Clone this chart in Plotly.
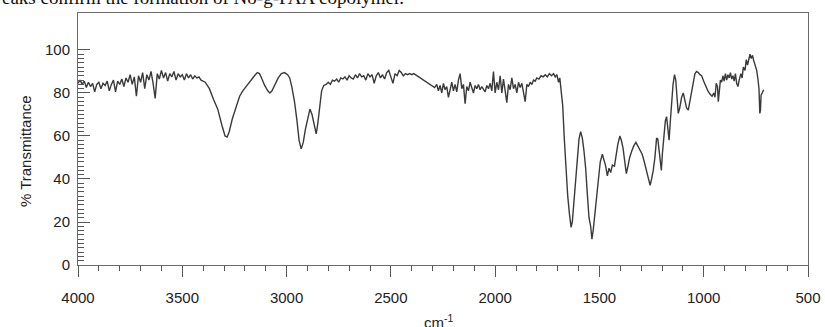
import plotly.graph_objects as go

# Wavenumber (cm-1) and % transmittance
wavenumber = [
    4000, 3990, 3980, 3970, 3960, 3950, 3940, 3930, 3920, 3910,
    3900, 3890, 3880, 3870, 3860, 3850, 3840, 3830, 3820, 3810,
    3800, 3790, 3780, 3770, 3760, 3750, 3740, 3730, 3720, 3710,
    3700, 3690, 3680, 3670, 3660, 3650, 3640, 3630, 3620, 3610,
    3600, 3590, 3580, 3570, 3560, 3550, 3540, 3530, 3520, 3510,
    3500, 3490, 3480, 3470, 3460, 3450, 3440, 3430, 3420, 3410,
    3390, 3370, 3350, 3330, 3310, 3295, 3285, 3275, 3260, 3240,
    3225, 3210, 3195, 3180, 3165, 3150, 3140, 3130, 3120, 3105,
    3090, 3080, 3070, 3055, 3040, 3025, 3010, 2995, 2985, 2975,
    2962, 2950, 2940, 2930, 2920, 2910, 2900, 2888, 2878, 2868,
    2858, 2850, 2842, 2832, 2822, 2810,
    2800, 2790, 2780, 2770, 2760, 2750, 2740, 2730, 2720, 2710,
    2700, 2690, 2680, 2670, 2660, 2650, 2640, 2630, 2620, 2610,
    2600, 2590, 2580, 2570, 2560, 2550, 2540, 2530, 2520, 2510,
    2500, 2490, 2480, 2470, 2460, 2450, 2440, 2430, 2420, 2410,
    2400, 2390, 2290,
    2280, 2272, 2264, 2256, 2248, 2240, 2232, 2224, 2216, 2208,
    2200, 2192, 2184, 2176, 2168, 2160, 2152, 2144, 2136, 2128,
    2120, 2112, 2104, 2096, 2088, 2080, 2072, 2064, 2056, 2048,
    2040, 2032, 2024, 2016, 2008, 2000, 1992, 1984, 1976, 1968,
    1960, 1952, 1944, 1936, 1928, 1920, 1912, 1904, 1896, 1888,
    1880, 1872, 1864, 1856, 1848, 1840, 1832, 1824, 1816, 1808,
    1800, 1790, 1780, 1770, 1760, 1750, 1740, 1730, 1720, 1712,
    1704, 1696, 1690, 1684,
    1676, 1668, 1660, 1652, 1644, 1636, 1630, 1622, 1614, 1606,
    1598, 1590, 1582, 1574, 1566, 1558, 1550, 1542, 1536, 1530,
    1522, 1514, 1506, 1496, 1486, 1478, 1470, 1462, 1454, 1446,
    1438, 1428, 1420, 1412, 1402, 1395, 1387, 1379, 1371, 1363,
    1355, 1345, 1335, 1325, 1315, 1305, 1295, 1285, 1275, 1265,
    1257, 1250, 1242, 1234, 1226, 1220, 1214, 1207, 1203, 1198,
    1190, 1184, 1178, 1172, 1166, 1160, 1154, 1147, 1140, 1134,
    1128, 1122, 1115, 1106, 1098, 1090, 1082, 1074, 1066, 1058,
    1050, 1042, 1034, 1026, 1018, 1010, 1000, 990, 980, 970,
    960, 952, 946, 940, 934, 930, 925, 920, 914, 908,
    902, 896, 890, 884, 878, 872, 866, 860, 854, 848,
    842, 836, 830, 822, 816, 810, 802, 796, 790, 784,
    778, 772, 766, 760, 752, 746, 740, 735, 731, 728,
    725, 720, 715, 712,
]

transmittance = [
    84.5, 86.0, 84.0, 85.5, 82.5, 85.0, 83.0, 84.5, 80.5, 84.0,
    85.0, 82.0, 84.5, 83.5, 85.5, 81.0, 84.0, 86.0, 80.5, 85.5,
    84.0, 86.5, 83.0, 87.0, 85.0, 88.5, 84.0, 87.5, 78.5, 88.0,
    85.0, 89.5, 82.0, 88.5, 86.0, 90.0, 84.5, 77.5, 89.0, 86.5,
    90.5, 87.0, 89.5, 85.5, 89.0, 87.5, 90.0, 86.0, 89.0, 87.5,
    88.5, 86.0, 89.0, 87.0, 88.5, 86.5, 88.0, 87.0, 87.5, 86.0,
    85.0, 82.0, 77.0, 72.5, 65.0, 60.0, 59.5, 62.0, 68.0, 74.0,
    78.5, 81.0, 83.0, 85.0, 87.0, 88.5, 89.5, 89.0, 87.0, 83.5,
    81.0, 80.0, 81.0, 84.0, 87.0, 89.0, 89.5, 88.5, 87.0, 83.0,
    76.0, 67.0, 58.0, 54.0, 57.0, 63.0, 68.0, 72.5, 70.0, 65.0,
    61.0, 66.0, 74.0, 81.0, 83.5, 84.0,
    85.0, 84.0, 86.0, 85.5, 86.5, 85.0, 87.0, 86.5, 87.5, 86.0,
    88.0, 87.0, 86.5, 88.5, 87.0, 89.0, 87.5, 88.0, 86.0, 89.0,
    87.5, 88.5, 84.5, 88.0, 89.5, 87.0, 88.5, 86.5, 89.5, 90.5,
    87.5, 84.5, 89.0, 88.0, 90.5, 89.5, 88.0, 89.0, 88.5, 89.0,
    88.5, 89.0, 82.5,
    84.0, 81.0, 83.5, 80.0, 84.5, 81.5, 83.0, 78.0, 82.5, 85.0,
    81.0, 84.0, 80.5, 86.0, 89.0, 82.0, 84.0, 75.0, 83.0, 81.0,
    85.0, 82.5, 80.0, 83.5, 82.0, 84.0, 81.5, 83.0, 82.0, 80.5,
    83.5, 82.0, 84.5, 81.0, 90.0, 80.0, 85.0, 81.5, 88.0, 80.0,
    86.5, 82.0, 75.5, 84.0, 81.5, 87.0, 82.0, 84.0, 80.0, 85.0,
    82.5, 84.5, 81.0, 76.0, 84.0, 83.0, 85.0, 84.0, 86.0, 85.5,
    87.0, 86.5, 88.0, 87.5, 88.5, 87.5, 89.0, 88.0, 89.0, 87.5,
    88.5, 85.0, 87.0, 82.0,
    74.0, 58.0, 44.0, 32.0, 24.0, 17.5, 20.0, 30.0, 42.0, 52.0,
    58.5, 62.0, 59.0, 53.0, 45.0, 33.0, 22.0, 18.0, 12.0, 16.0,
    24.0, 33.0, 41.0, 48.0, 51.5, 49.0, 46.0, 41.5, 45.0, 43.0,
    46.5, 46.0, 52.0, 56.0, 60.0, 58.0, 54.5, 48.0, 42.5, 46.0,
    50.0, 53.0, 55.5, 57.0, 55.0, 53.0, 51.5, 48.0, 44.0, 39.0,
    37.0, 40.0, 44.0, 50.0, 59.0, 58.5, 53.0, 47.0, 44.0, 52.0,
    63.0, 67.0, 69.0, 63.0, 58.0, 67.0, 76.0, 84.0, 88.5, 86.0,
    78.0, 70.5, 73.0, 78.0, 80.0, 76.0, 73.0, 72.0, 76.0, 81.0,
    85.5, 89.0, 90.0, 89.5, 88.5, 88.0, 85.5, 83.0, 81.0, 79.5,
    78.5, 80.0, 78.0, 84.5, 83.0, 76.0, 82.0, 86.0, 85.0, 88.0,
    85.5, 89.0, 86.0, 88.5, 87.0, 89.5, 86.5, 88.0, 85.5, 89.0,
    84.5, 83.0, 86.0, 89.0, 87.0, 92.0, 90.5, 95.5, 93.0, 96.5,
    98.0, 96.0, 97.5, 95.0, 92.0, 90.5, 86.5, 82.0, 70.5, 72.0,
    79.0, 80.0, 80.5, 81.5,
]

x_tick_vals = [4000, 3500, 3000, 2500, 2000, 1500, 1000, 500]
x_tick_text = ["4000", "3500", "3000", "2500", "2000", "1500", "1000", "500"]
x_minor_vals = [v for v in range(4000, 499, -100) if v % 500 != 0]
y_tick_vals = [0, 20, 40, 60, 80, 100]
y_tick_text = ["0", "20", "40", "60", "80", "100"]
y_minor_vals = [v for v in range(2, 100, 2) if v % 20 != 0]

fig = go.Figure()
fig.add_trace(go.Scatter(
    x=wavenumber, y=transmittance, mode="lines",
    line=dict(color="#3a3a3a", width=1.4),
    showlegend=False, hoverinfo="skip",
))

tick_font = dict(family="Liberation Sans, Arial, sans-serif", size=15, color="#222222")

fig.update_layout(
    width=825, height=327,
    margin=dict(l=78, r=17, t=13, b=62, autoexpand=False),
    paper_bgcolor="white", plot_bgcolor="white",
    showlegend=False,
    xaxis=dict(
        range=[4000, 500], showgrid=False, zeroline=False, automargin=False,
        showline=True, mirror=True, linecolor="#6a6a6a", linewidth=1,
        ticks="outside", ticklen=11, tickwidth=1, tickcolor="#555555",
        tickmode="array", tickvals=x_tick_vals, ticktext=x_tick_text,
        tickfont=tick_font, ticklabelstandoff=8,
        minor=dict(tickmode="array", tickvals=x_minor_vals, ticks="outside",
                   ticklen=5, tickwidth=1, tickcolor="#555555", showgrid=False),
    ),
    yaxis=dict(
        range=[0, 117.2], showgrid=False, zeroline=False, automargin=False,
        showline=True, mirror=True, linecolor="#6a6a6a", linewidth=1,
        ticks="inside", ticklen=12, tickwidth=1, tickcolor="#555555",
        tickmode="array", tickvals=y_tick_vals, ticktext=y_tick_text,
        tickfont=tick_font, ticklabelstandoff=4,
        minor=dict(tickmode="array", tickvals=y_minor_vals, ticks="inside",
                   ticklen=6, tickwidth=1, tickcolor="#555555", showgrid=False),
    ),
    annotations=[
        dict(text="% Transmittance", xref="paper", yref="paper",
             x=-0.0726, y=0.452, textangle=-90, showarrow=False,
             xanchor="center", yanchor="middle",
             font=dict(family="Liberation Sans, Arial, sans-serif", size=15, color="#222222")),
        dict(text="cm<sup>-1</sup>", xref="paper", yref="paper",
             x=0.494, y=-0.226, showarrow=False,
             xanchor="center", yanchor="middle",
             font=dict(family="Liberation Sans, Arial, sans-serif", size=15, color="#222222")),
        dict(text="eaks confirm the formation of No-g-PAA copolymer.",
             xref="paper", yref="paper", x=-78 / 730, y=1 + 15 / 252,
             xanchor="left", yanchor="middle", showarrow=False,
             font=dict(family="Liberation Serif, Times New Roman, serif", size=19, color="#111111")),
    ],
)

fig.write_html("out.html", config={"displayModeBar": False},
               post_script="document.body.style.margin='0px';")
